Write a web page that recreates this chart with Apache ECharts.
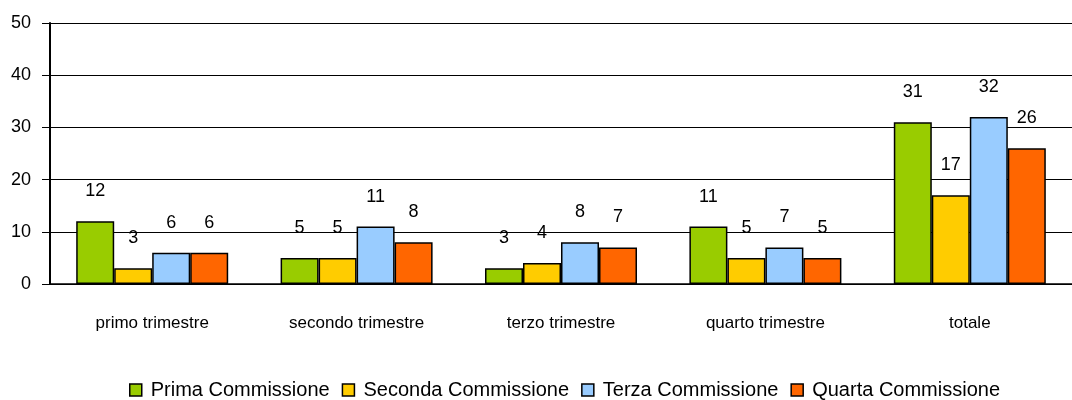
<!DOCTYPE html>
<html>
<head>
<meta charset="utf-8">
<script src="https://cdn.jsdelivr.net/npm/echarts@6/dist/echarts.min.js"></script>
<style>
  html, body { margin: 0; padding: 0; background: #fff; }
  #chart { width: 1072px; height: 400px; }
</style>
</head>
<body>
<div id="chart"></div>
<script>
const categories = ['primo trimestre', 'secondo trimestre', 'terzo trimestre', 'quarto trimestre', 'totale']
const seriesNames = ['Prima Commissione', 'Seconda Commissione', 'Terza Commissione', 'Quarta Commissione']
const prima = [12, 5, 3, 11, 31]
const seconda = [3, 5, 4, 5, 17]
const terza = [6, 11, 8, 7, 32]
const quarta = [6, 8, 7, 5, 26]
const yTicks = { min: 0, max: 50, interval: 10 }

const colors = ['#99CC00', '#FFCC00', '#99CCFF', '#FF6600']
const values = [prima, seconda, terza, quarta]
const font = 'Liberation Sans, Arial, sans-serif'

const chart = echarts.init(document.getElementById('chart'))
const option = {
  animation: false,
  color: colors,
  grid: { left: 50, top: 23, width: 1032, height: 261, containLabel: false },
  legend: {
    top: 375,
    left: 124,
    itemWidth: 12,
    itemHeight: 12,
    itemGap: 12,
    icon: 'rect',
    textStyle: { fontFamily: font, fontSize: 20, color: '#000', padding: [0, 0, 0, 4] },
    data: seriesNames.map(n => ({ name: n, itemStyle: { borderColor: '#000', borderWidth: 1.5 } }))
  },
  xAxis: {
    type: 'category',
    data: categories,
    axisLine: { lineStyle: { color: '#000', width: 1.5 } },
    axisTick: { length: 8, lineStyle: { color: '#000' } },
    axisLabel: { fontFamily: font, fontSize: 17, color: '#000', margin: 31 }
  },
  yAxis: {
    type: 'value',
    min: yTicks.min,
    max: yTicks.max,
    interval: yTicks.interval,
    axisLine: { show: true, lineStyle: { color: '#000', width: 2 } },
    axisTick: { show: true, length: 8, lineStyle: { color: '#000' } },
    axisLabel: { fontFamily: font, fontSize: 18, color: '#000', margin: 19 },
    splitLine: { lineStyle: { color: '#000', width: 1 } }
  },
  series: seriesNames.map((name, i) => ({
    name: name,
    type: 'bar',
    data: values[i],
    barWidth: 38,
    barGap: '0%',
    itemStyle: { borderColor: '#000', borderWidth: 1.5 },
    label: {
      show: true,
      position: 'top',
      distance: 21,
      fontFamily: font,
      fontSize: 18,
      color: '#000'
    }
  }))
}
chart.setOption(option)
</script>
</body>
</html>
